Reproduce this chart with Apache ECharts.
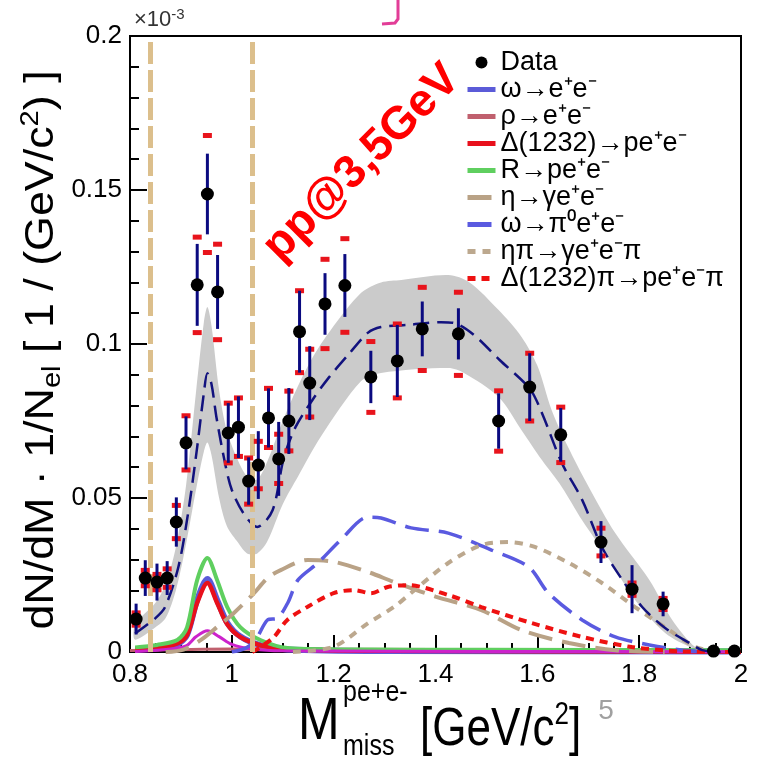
<!DOCTYPE html>
<html>
<head>
<meta charset="utf-8">
<script src="https://cdn.jsdelivr.net/npm/echarts@6/dist/echarts.min.js"></script>
<style>
html, body { margin: 0; padding: 0; background: #fff; }
#chart { width: 758px; height: 761px; }
</style>
</head>
<body>
<div id="chart"></div>
<script>
var FONT = "'Liberation Sans', Arial, sans-serif";

// measured points
var dataX = [0.812, 0.83, 0.853, 0.873, 0.891, 0.91, 0.932, 0.952, 0.972, 0.993, 1.013, 1.033, 1.052, 1.072, 1.092, 1.112,
  1.133, 1.153, 1.183, 1.222, 1.273, 1.325, 1.374, 1.445, 1.524, 1.585, 1.646, 1.725, 1.786, 1.847, 1.946, 1.987];
var dataY = [0.0107, 0.024, 0.0227, 0.024, 0.0422, 0.0679, 0.1192, 0.1487, 0.1169, 0.0711, 0.073, 0.0555, 0.0607, 0.076, 0.0627, 0.075,
  0.104, 0.0873, 0.113, 0.119, 0.0893, 0.0945, 0.1049, 0.1033, 0.075, 0.086, 0.0705, 0.0357, 0.0204, 0.0156, 0.0003, 0.0003];
var statErr = [0.005, 0.0058, 0.006, 0.0055, 0.008, 0.0086, 0.0133, 0.0131, 0.012, 0.0097, 0.01, 0.0077, 0.011, 0.0096, 0.012, 0.0107,
  0.0133, 0.012, 0.01, 0.0102, 0.0085, 0.0117, 0.0089, 0.0083, 0.009, 0.011, 0.0087, 0.0068, 0.0078, 0.004, 0.0005, 0.0005];
var sysErr = [0.002, 0.0025, 0.0025, 0.003, 0.0054, 0.0088, 0.0155, 0.019, 0.0155, 0.0097, 0.0095, 0.0075, 0.0077, 0.0096, 0.008, 0.0097,
  0.0133, 0.011, 0.0145, 0.0152, 0.0115, 0.012, 0.0135, 0.0135, 0.0098, 0.011, 0.009, 0.0045, 0.002, 0.0018, 0.0003, 0.0003];

// model: total + uncertainty band
var totalModel = [[0.81, 0.006], [0.85, 0.011], [0.869, 0.0146], [0.895, 0.0276], [0.914, 0.045], [0.932, 0.0666], [0.945, 0.084],
  [0.952, 0.0905], [0.96, 0.087], [0.97, 0.076], [0.987, 0.061], [1.0, 0.0526], [1.023, 0.045], [1.05, 0.0406], [1.08, 0.046],
  [1.102, 0.063], [1.125, 0.073], [1.159, 0.082], [1.19, 0.089], [1.228, 0.0964], [1.267, 0.1036], [1.293, 0.1055], [1.346, 0.1062],
  [1.411, 0.1071], [1.437, 0.1068], [1.475, 0.103], [1.526, 0.0948], [1.585, 0.0855], [1.609, 0.0776], [1.648, 0.0614],
  [1.688, 0.0494], [1.727, 0.034], [1.767, 0.0234], [1.806, 0.0146], [1.851, 0.0078], [1.899, 0.0029], [1.924, 0.0006], [1.96, 0]];
var bandUpper = [[0.81, 0.009], [0.85, 0.016], [0.87, 0.022], [0.89, 0.034], [0.91, 0.054], [0.93, 0.085], [0.945, 0.107],
  [0.952, 0.112], [0.96, 0.106], [0.975, 0.085], [0.99, 0.072], [1.01, 0.063], [1.03, 0.057], [1.05, 0.056], [1.07, 0.062],
  [1.10, 0.075], [1.129, 0.086], [1.16, 0.096], [1.194, 0.1045], [1.254, 0.1166], [1.293, 0.12], [1.333, 0.1208], [1.425, 0.1224],
  [1.467, 0.12], [1.524, 0.111], [1.569, 0.1023], [1.60, 0.093], [1.628, 0.0786], [1.665, 0.065], [1.701, 0.0536], [1.753, 0.0386],
  [1.82, 0.0234], [1.865, 0.0104], [1.91, 0.0016], [1.94, 0]];
var bandLower = [[0.81, 0.004], [0.85, 0.008], [0.87, 0.011], [0.89, 0.02], [0.91, 0.035], [0.93, 0.053], [0.945, 0.065],
  [0.952, 0.068], [0.96, 0.064], [0.975, 0.05], [0.99, 0.041], [1.01, 0.036], [1.03, 0.032], [1.05, 0.032], [1.07, 0.036],
  [1.10, 0.048], [1.13, 0.057], [1.175, 0.07], [1.254, 0.088], [1.293, 0.0906], [1.425, 0.0922], [1.456, 0.0906], [1.524, 0.0828],
  [1.569, 0.072], [1.609, 0.0623], [1.648, 0.0536], [1.688, 0.0428], [1.741, 0.03], [1.792, 0.0169], [1.851, 0.0062],
  [1.905, 0.0013], [1.94, 0]];

// components
var omegaEE = [[0.81, 0.0008], [0.853, 0.0012], [0.893, 0.0025], [0.912, 0.0055], [0.932, 0.017], [0.952, 0.0237], [0.971, 0.017],
  [0.991, 0.0095], [1.017, 0.005], [1.056, 0.0022], [1.109, 0.0008], [1.3, 0.0003], [2.0, 0.0002]];
var rhoEE = [[0.8, 0.0005], [1.0, 0.001], [1.4, 0.0008], [2.0, 0.0003]];
var deltaEE = [[0.81, 0.0009], [0.853, 0.0013], [0.893, 0.0028], [0.912, 0.0055], [0.932, 0.016], [0.952, 0.0224], [0.971, 0.016],
  [0.991, 0.009], [1.017, 0.0048], [1.056, 0.0022], [1.109, 0.0009], [1.3, 0.0004], [2.0, 0.0002]];
var resR = [[0.81, 0.0015], [0.853, 0.0023], [0.893, 0.0039], [0.912, 0.008], [0.932, 0.0234], [0.952, 0.0305], [0.971, 0.0234],
  [0.991, 0.0146], [1.017, 0.008], [1.056, 0.0039], [1.109, 0.0013], [1.2, 0.0009], [1.5, 0.0007], [2.0, 0.0006]];
var magenta = [[0.81, 0.0002], [0.87, 0.0008], [0.91, 0.002], [0.93, 0.005], [0.952, 0.0069], [0.975, 0.005], [1.0, 0.0025],
  [1.04, 0.001], [1.1, 0.0004], [1.5, 0.0002], [2.0, 0.0001]];
var etaDalitz = [[0.87, 0], [0.905, 0.0008], [0.94, 0.004], [0.971, 0.0081], [1.003, 0.0125], [1.043, 0.019], [1.07, 0.024],
  [1.096, 0.0266], [1.149, 0.0299], [1.2, 0.0293], [1.267, 0.026], [1.319, 0.0227], [1.4, 0.018], [1.49, 0.0136], [1.569, 0.0071],
  [1.662, 0.0029], [1.753, 0.0006], [1.85, 0]];
var omegaDalitz = [[1.0, 0], [1.03, 0.0015], [1.05, 0.0049], [1.07, 0.0104], [1.09, 0.011], [1.11, 0.016], [1.13, 0.0234],
  [1.169, 0.0289], [1.214, 0.0364], [1.267, 0.0438], [1.293, 0.0435], [1.352, 0.0403], [1.425, 0.0386], [1.51, 0.0331],
  [1.583, 0.0276], [1.622, 0.0191], [1.688, 0.0104], [1.753, 0.0049], [1.82, 0.0023], [1.885, 0.0006], [1.95, 0]];
var etaPi = [[1.12, 0], [1.2, 0.0017], [1.267, 0.0093], [1.319, 0.0147], [1.358, 0.02], [1.425, 0.0289], [1.49, 0.0347],
  [1.543, 0.0357], [1.595, 0.0341], [1.662, 0.0289], [1.727, 0.0224], [1.792, 0.0146], [1.859, 0.0071], [1.911, 0.0016], [1.96, 0]];
var deltaPi = [[1.04, 0], [1.06, 0.002], [1.083, 0.0049], [1.109, 0.0104], [1.149, 0.0147], [1.2, 0.0191], [1.24, 0.0201],
  [1.273, 0.0191], [1.306, 0.0211], [1.346, 0.0217], [1.425, 0.0185], [1.49, 0.0146], [1.589, 0.0094], [1.688, 0.0049],
  [1.786, 0.0016], [1.885, 0.0002], [2.0, 0]];

var cutX = [0.84, 1.04];
var xTickLabels = ['0.8', '1', '1.2', '1.4', '1.6', '1.8', '2'];
var yTickLabels = ['0', '0.05', '0.1', '0.15', '0.2'];
var legendNames = ['Data', 'ω→e⁺e⁻', 'ρ→e⁺e⁻', 'Δ(1232)→pe⁺e⁻', 'R→pe⁺e⁻', 'η→γe⁺e⁻', 'ω→π⁰e⁺e⁻', 'ηπ→γe⁺e⁻π', 'Δ(1232)π→pe⁺e⁻π'];

var chart = echarts.init(document.getElementById('chart'));

function curve(name, data, color, width, dash, z) {
  return {
    name: name, type: 'line', data: data, symbol: 'none', smooth: 0.3, z: z || 3,
    lineStyle: { color: color, width: width, type: dash || 'solid' },
    itemStyle: { color: color }, silent: true
  };
}

var errData = dataX.map(function (x, i) { return [x, dataY[i], statErr[i], sysErr[i]]; });

var axisCommon = {
  axisLine: { show: true, lineStyle: { color: '#000', width: 2 } },
  axisTick: { show: true, inside: true, length: 17, lineStyle: { color: '#000', width: 2 } },
  splitLine: { show: false },
  minorSplitLine: { show: false }
};

var option = {
  animation: false,
  backgroundColor: '#fff',
  grid: { left: 130, right: 17, top: 36, bottom: 109, show: true, borderColor: '#000', borderWidth: 2 },
  legend: {
    orient: 'vertical', left: 460, top: 44, itemWidth: 28, itemHeight: 12, itemGap: 0,
    selectedMode: false,
    itemStyle: { opacity: 0 },
    lineStyle: { width: 5 },
    textStyle: { fontFamily: FONT, fontSize: 27, lineHeight: 25, color: '#000' },
    data: legendNames.map(function (n, i) {
      return i === 0 ? { name: n, icon: 'circle', itemStyle: { opacity: 1, color: '#000' } } : { name: n };
    })
  },
  xAxis: Object.assign({
    type: 'value', min: 0.8, max: 2, interval: 0.2,
    minorTick: { show: true, splitNumber: 4, length: 9, lineStyle: { color: '#000', width: 2 } },
    axisLabel: { show: true, fontFamily: FONT, fontSize: 26, color: '#000', margin: 10,
      formatter: function (v, i) { return xTickLabels[i]; } }
  }, axisCommon),
  yAxis: Object.assign({
    type: 'value', min: 0, max: 0.2, interval: 0.05,
    minorTick: { show: true, splitNumber: 5, length: 9, lineStyle: { color: '#000', width: 2 } },
    axisLabel: { show: true, fontFamily: FONT, fontSize: 26, color: '#000', margin: 8,
      formatter: function (v, i) { return yTickLabels[i]; } }
  }, axisCommon),
  series: [
    {
      name: 'band', type: 'custom', silent: true, z: 1,
      data: [[0.8, 0]],
      renderItem: function (params, api) {
        var pts = bandUpper.map(function (p) { return api.coord(p); });
        var low = bandLower.map(function (p) { return api.coord(p); }).reverse();
        return { type: 'polygon', shape: { points: pts.concat(low), smooth: 0.3 }, style: { fill: '#cbcbcb' } };
      }
    },
    curve('ω→e⁺e⁻', omegaEE, '#5b5bd8', 6, 'solid', 3),
    curve('ρ→e⁺e⁻', rhoEE, '#c0606e', 3, 'solid', 3),
    curve('Δ(1232)→pe⁺e⁻', deltaEE, '#e8101c', 4.5, 'solid', 3),
    curve('R→pe⁺e⁻', resR, '#5fcf5f', 4, 'solid', 3),
    curve('mag', magenta, '#cc22cc', 3, 'solid', 3),
    curve('η→γe⁺e⁻', etaDalitz, '#b9a286', 4, [24, 10], 3),
    curve('ω→π⁰e⁺e⁻', omegaDalitz, '#5a5ae0', 3.5, [24, 10], 3),
    curve('ηπ→γe⁺e⁻π', etaPi, '#bca88e', 4, [8, 7], 3),
    curve('Δ(1232)π→pe⁺e⁻π', deltaPi, '#ee1111', 4, [8, 6], 3),
    Object.assign(curve('total', totalModel, '#12127e', 2.5, [16, 8], 4), {
      markLine: {
        symbol: 'none', silent: true, label: { show: false },
        lineStyle: { color: '#dcbf8c', width: 5, type: [22, 6] },
        data: cutX.map(function (x) { return { xAxis: x }; })
      }
    }),
    {
      name: 'err', type: 'custom', silent: true, z: 10, clip: true,
      data: errData,
      renderItem: function (params, api) {
        var x = api.value(0), y = api.value(1), st = api.value(2), sy = api.value(3);
        var hi = api.coord([x, y + st]), lo = api.coord([x, Math.max(0, y - st)]);
        var sh = api.coord([x, y + sy]), sl = api.coord([x, Math.max(0, y - sy)]);
        return {
          type: 'group', children: [
            { type: 'rect', shape: { x: sh[0] - 4.5, y: sh[1] - 2.5, width: 9, height: 5 }, style: { fill: '#e8141c' } },
            { type: 'rect', shape: { x: sl[0] - 4.5, y: sl[1] - 2.5, width: 9, height: 5 }, style: { fill: '#e8141c' } },
            { type: 'line', shape: { x1: hi[0], y1: hi[1], x2: lo[0], y2: lo[1] }, style: { stroke: '#0a0a80', lineWidth: 3 } }
          ]
        };
      }
    },
    {
      name: 'Data', type: 'scatter', z: 11, silent: true,
      data: dataX.map(function (x, i) { return [x, dataY[i]]; }),
      symbol: 'circle', symbolSize: 13, itemStyle: { color: '#000', opacity: 1 }
    }
  ],
  graphic: [
    { type: 'text', x: 42, y: 350, rotation: Math.PI / 2, scaleX: 1.12,
      style: { text: '{n|dN/dM · 1/N}{s|el}{n| [ 1 / (GeV/c}{p|2}{n|) ]}', align: 'center', verticalAlign: 'middle',
        rich: {
          n: { fontFamily: FONT, fontSize: 40, lineHeight: 48, verticalAlign: 'middle', fill: '#000' },
          s: { fontFamily: FONT, fontSize: 26, lineHeight: 20, verticalAlign: 'bottom', fill: '#000' },
          p: { fontFamily: FONT, fontSize: 26, lineHeight: 20, verticalAlign: 'top', fill: '#000' }
        } } },
    { type: 'text', x: 298, y: 752, scaleY: 1.2,
      style: { text: 'M', font: '50px ' + FONT, fill: '#000', align: 'left', verticalAlign: 'bottom' } },
    { type: 'text', x: 343, y: 708, scaleY: 1.2,
      style: { text: 'pe+e-', font: '25px ' + FONT, fill: '#000', align: 'left', verticalAlign: 'bottom' } },
    { type: 'text', x: 343, y: 762, scaleY: 1.2,
      style: { text: 'miss', font: '25px ' + FONT, fill: '#000', align: 'left', verticalAlign: 'bottom' } },
    { type: 'text', x: 420, y: 760, scaleY: 1.2,
      style: { text: '{n|[GeV/c}{p|2}{n|]}', align: 'left', verticalAlign: 'bottom',
        rich: {
          n: { fontFamily: FONT, fontSize: 44, lineHeight: 50, verticalAlign: 'middle', fill: '#000' },
          p: { fontFamily: FONT, fontSize: 26, lineHeight: 22, verticalAlign: 'top', fill: '#000' }
        } } },
    { type: 'text', x: 606, y: 711,
      style: { text: '5', font: '28px ' + FONT, fill: '#a0a0a0', align: 'center', verticalAlign: 'middle' } },
    { type: 'text', x: 134, y: 33,
      style: { text: '{n|×10}{p|-3}', align: 'left', verticalAlign: 'bottom',
        rich: {
          n: { fontFamily: FONT, fontSize: 22, lineHeight: 26, verticalAlign: 'middle', fill: '#333' },
          p: { fontFamily: FONT, fontSize: 15, lineHeight: 14, verticalAlign: 'top', fill: '#333' }
        } } },
    { type: 'text', x: 362, y: 163, rotation: Math.PI / 4,
      style: { text: 'pp@3,5GeV', font: 'bold 46px ' + FONT, fill: '#ff0000', align: 'center', verticalAlign: 'middle' } },
    { type: 'polyline', shape: { points: [[398, 0], [398, 19], [395, 23], [382, 24]] },
      style: { stroke: '#e23d97', lineWidth: 3, fill: null } }
  ]
};

chart.setOption(option);
</script>
</body>
</html>
